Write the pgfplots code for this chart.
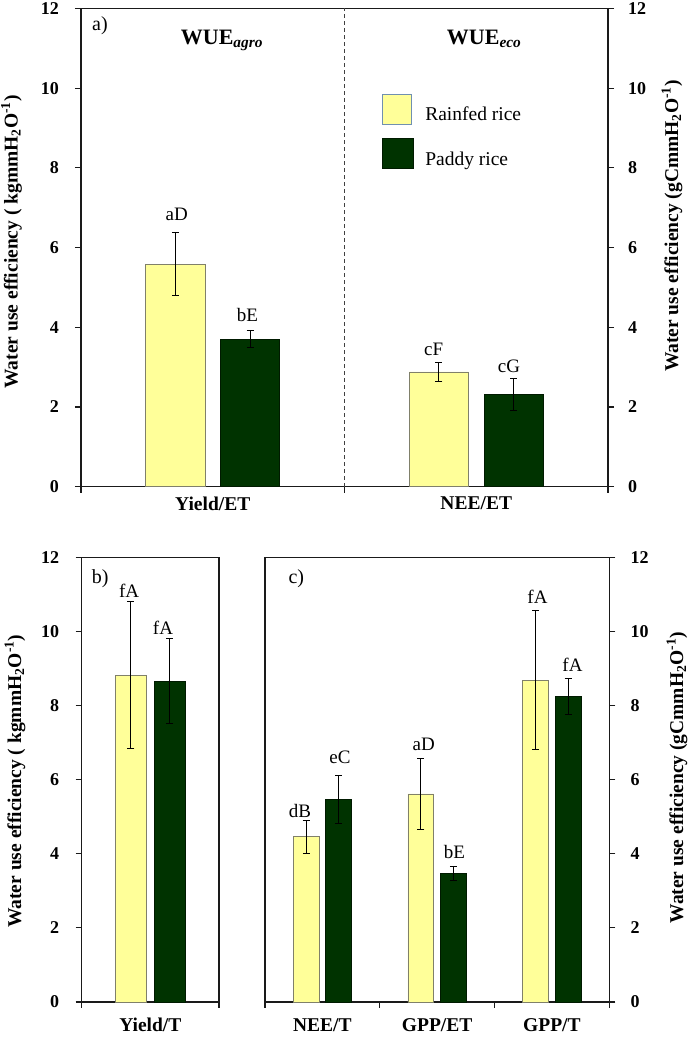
\documentclass[border=0pt]{standalone}
\usepackage{pgfplots}
\pgfplotsset{compat=1.18}
\usepackage{fontspec}
\setmainfont{Liberation Serif}
\definecolor{rainfed}{HTML}{FFFF99}
\definecolor{rainedge}{HTML}{80806A}
\definecolor{paddy}{HTML}{003300}
\definecolor{paddyedge}{HTML}{001A00}
\definecolor{legedge}{HTML}{7090B0}
\definecolor{axgray}{HTML}{1A1A1A}
\tikzset{
  lab/.style={font=\fontsize{19}{19}\selectfont, inner sep=0pt},
  ylab/.style={font=\bfseries\fontsize{19.5}{19.5}\selectfont, rotate=90, anchor=center},
}
\pgfplotsset{
  wue/.style={
    scale only axis,
    ymin=0, ymax=12, ytick={0,2,4,6,8,10,12},
    tick align=outside,
    major tick length=6pt,
    axis line style={line width=1.1pt, axgray},
    every tick/.style={line width=1.1pt, axgray},
    /pgf/number format/assume math mode=true,
    yticklabel style={font=\bfseries\fontsize{18}{18}\selectfont, inner sep=0pt},
    xticklabel style={font=\bfseries\fontsize{19.5}{19.5}\selectfont, inner sep=0pt, anchor=north},
    xtick pos=bottom,
    xticklabels={},
    extra x tick style={major tick length=0pt},
    clip=false,
  },
  yel/.style={ybar, bar width=0.225, bar shift=0pt, fill=rainfed, draw=rainedge, line width=0.8pt,
    error bars/y dir=both, error bars/y explicit,
    error bars/error bar style={line width=1pt, black},
    error bars/error mark options={rotate=90, mark size=3.5pt, line width=1pt, black}},
  grn/.style={ybar, bar width=0.225, bar shift=0pt, fill=paddy, draw=paddyedge, line width=0.8pt,
    error bars/y dir=both, error bars/y explicit,
    error bars/error bar style={line width=1pt, black},
    error bars/error mark options={rotate=90, mark size=3.5pt, line width=1pt, black}},
}
\begin{document}
\begin{tikzpicture}
\path[use as bounding box] (0pt,0pt) rectangle (688pt,1048pt);

% ---------- panel a (left scale) ----------
\begin{axis}[wue, at={(81pt,561.3pt)}, anchor=south west, width=527pt, height=478.2pt,
  xmin=-0.5, xmax=1.5, xtick={-0.5,0.5,1.5},
  extra x ticks={0,1}, extra x tick labels={Yield/ET,NEE/ET},
  ytick pos=left, yticklabel style={anchor=east, xshift=-16pt},
  xticklabel style={yshift=-10pt},
  every axis y label/.style={at={(axis description cs:-0.132,0.512)}, ylab},
  ylabel={Water use efficiency ( kgmmH\textsubscript{2}O\textsuperscript{-1})},
  legend style={at={(axis description cs:0.5717,0.8212)}, anchor=north west, draw=none, fill=none,
    inner sep=0pt, outer sep=0pt, font=\fontsize{19.5}{19.5}\selectfont,
    /tikz/row sep=13.3pt, /tikz/column sep=11pt, nodes={inner sep=0pt}},
  legend cell align=left]
\addplot[yel, legend image code/.code={\draw[fill=rainfed, draw=legedge, line width=1pt] (0pt,-10pt) rectangle (29pt,20pt);}]
  coordinates {(-0.142,5.58) +- (0,0.79) (0.858,2.88) +- (0,0.24)};
\addlegendentry{Rainfed rice}
\addplot[grn, legend image code/.code={\draw[fill=paddy, draw=paddyedge, line width=1pt] (0pt,-9pt) rectangle (31pt,21pt);}]
  coordinates {(0.142,3.70) +- (0,0.21) (1.142,2.31) +- (0,0.41)};
\addlegendentry{Paddy rice}
\addplot[forget plot, black!75, line width=1pt, dash pattern=on 4pt off 3pt] coordinates {(0.5,0) (0.5,12)};
\node[anchor=base, font=\bfseries\fontsize{22}{22}\selectfont] at (axis cs:0.035,11.1) {WUE\textsubscript{\textit{agro}}};
\node[anchor=base, font=\bfseries\fontsize{22}{22}\selectfont] at (axis cs:1.03,11.1) {WUE\textsubscript{\textit{eco}}};
\node[anchor=base west, font=\fontsize{20}{20}\selectfont, inner sep=0pt] at (axis description cs:0.0209,0.953) {a)};
\node[lab] at (axis cs:-0.137,6.84) {aD};
\node[lab] at (axis cs:0.132,4.31) {bE};
\node[lab] at (axis cs:0.838,3.45) {cF};
\node[lab] at (axis cs:1.124,3.03) {cG};
\end{axis}

% ---------- panel a (right scale) ----------
\begin{axis}[wue, at={(81pt,561.3pt)}, anchor=south west, width=527pt, height=478.2pt,
  xmin=-0.5, xmax=1.5, hide x axis, axis y line*=right,
  ytick pos=right, yticklabel pos=right, yticklabel style={anchor=west, xshift=14pt},
  every axis y label/.style={at={(axis description cs:1.1214,0.545)}, ylab},
  ylabel={Water use efficiency (gCmmH\textsubscript{2}O\textsuperscript{-1})}]
\addplot[draw=none, forget plot] coordinates {(0,0)};
\end{axis}

% ---------- panel b ----------
\begin{axis}[wue, at={(81.7pt,46pt)}, anchor=south west, width=137.3pt, height=444.3pt,
  xmin=-0.5, xmax=0.5, xtick={-0.5,0.5},
  extra x ticks={0}, extra x tick labels={Yield/T},
  ytick pos=left, yticklabel style={anchor=east, xshift=-16.5pt},
  xticklabel style={yshift=-16pt},
  every axis y label/.style={at={(axis description cs:-0.486,0.497)}, ylab},
  ylabel={Water use efficiency ( kgmmH\textsubscript{2}O\textsuperscript{-1})}]
\addplot[yel] coordinates {(-0.142,8.83) +- (0,1.98)};
\addplot[grn] coordinates {(0.142,8.67) +- (0,1.14)};
\node[anchor=base west, font=\fontsize{20}{20}\selectfont, inner sep=0pt] at (axis description cs:0.073,0.941) {b)};
\node[lab] at (axis cs:-0.155,11.1) {fA};
\node[lab] at (axis cs:0.092,10.11) {fA};
\end{axis}

% ---------- panel c ----------
\begin{axis}[wue, at={(265pt,46pt)}, anchor=south west, width=344.3pt, height=444.3pt,
  xmin=-0.5, xmax=2.5, xtick={-0.5,0.5,1.5,2.5},
  extra x ticks={0,1,2}, extra x tick labels={NEE/T,GPP/ET,GPP/T},
  ytick pos=right, yticklabel pos=right, yticklabel style={anchor=west, xshift=15pt},
  xticklabel style={yshift=-16pt},
  every axis y label/.style={at={(axis description cs:1.1966,0.505)}, ylab},
  ylabel={Water use efficiency (gCmmH\textsubscript{2}O\textsuperscript{-1})}]
\addplot[yel] coordinates {(-0.142,4.46) +- (0,0.45) (0.858,5.62) +- (0,0.95) (1.858,8.69) +- (0,1.88)};
\addplot[grn] coordinates {(0.142,5.46) +- (0,0.65) (1.142,3.47) +- (0,0.18) (2.142,8.25) +- (0,0.48)};
\node[anchor=base west, font=\fontsize{20}{20}\selectfont, inner sep=0pt] at (axis description cs:0.068,0.941) {c)};
\node[lab] at (axis cs:-0.195,5.16) {dB};
\node[lab] at (axis cs:0.153,6.60) {eC};
\node[lab] at (axis cs:0.883,6.97) {aD};
\node[lab] at (axis cs:1.151,4.06) {bE};
\node[lab] at (axis cs:1.874,10.95) {fA};
\node[lab] at (axis cs:2.179,9.10) {fA};
\end{axis}
\end{tikzpicture}
\end{document}
